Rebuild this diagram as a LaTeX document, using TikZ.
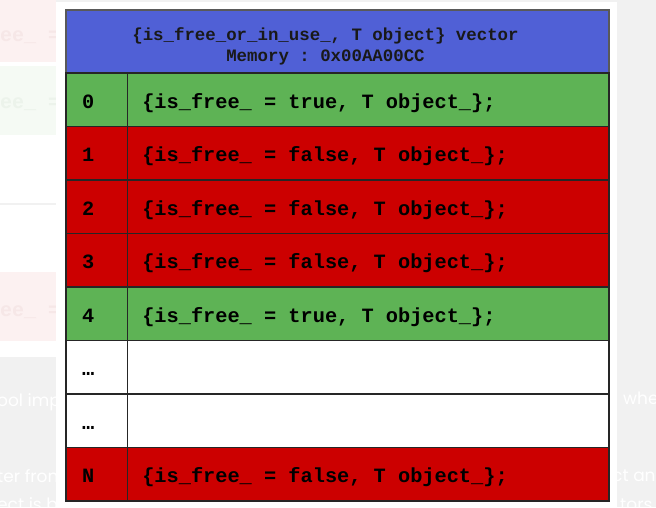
\documentclass[tikz,border=0pt]{standalone}
\usepackage{fontspec}
\setmonofont{Liberation Mono}
\newfontfamily\pagefont{Poppins}
\usepackage{tikz}
\usetikzlibrary{positioning}
\definecolor{poolblue}{RGB}{80, 96, 214}
\definecolor{poolgreen}{RGB}{94, 179, 85}
\definecolor{poolred}{RGB}{204, 0, 0}
\definecolor{pagegrey}{RGB}{241, 241, 241}
\definecolor{fadedred}{RGB}{252, 241, 241}
\definecolor{fadedgreen}{RGB}{245, 250, 244}
\definecolor{ghostred}{RGB}{246, 231, 231}
\definecolor{ghostgreen}{RGB}{236, 243, 235}

\begin{document}
\begin{tikzpicture}[
  x=1pt, y=-1pt,
  header/.style={
    rectangle, draw=black!65, line width=1.2pt,
    fill=poolblue, outer sep=0pt,
    minimum width=543pt, minimum height=63pt
  },
  headtext/.style={
    inner sep=0pt, align=center, text=black!90,
    font=\fontsize{17.4}{21.5}\selectfont\ttfamily\bfseries
  },
  cell/.style={
    rectangle, draw=black!85, line width=1.2pt, outer sep=0pt,
    minimum height=53.5pt, inner xsep=15pt, inner ysep=0pt,
    align=left, text height=20pt, text depth=3pt,
    font=\fontsize{20.3}{24}\selectfont\ttfamily\bfseries,
    execute at begin node={\spaceskip=0pt\xspaceskip=0pt}
  },
  idxcell/.style={cell, inner xsep=16pt, text width=29.3pt},
  valcell/.style={cell, text width=451.7pt},
  free/.style={fill=poolgreen},
  used/.style={fill=poolred},
  empty/.style={fill=white},
  ghost/.style={
    inner sep=0pt, anchor=base west,
    font=\fontsize{20}{24}\selectfont\ttfamily\bfseries
  },
  pagetext/.style={
    inner sep=0pt, anchor=base west, text=white,
    font=\fontsize{17}{20}\selectfont\pagefont
  }
]

\useasboundingbox (0,0) rectangle (656,507);

% page behind the picture
\fill[pagegrey] (0,0) rectangle (656,507);
\fill[white] (0,0) rectangle (56,357);
\fill[fadedred] (0,0) rectangle (56,62);
\fill[fadedgreen] (0,66) rectangle (56,135);
\fill[pagegrey] (0,203) rectangle (56,205);
\fill[fadedred] (0,272) rectangle (56,341);

\node[ghost, text=ghostred] (gh1) at (-72,41) {\{is\_free\_ =};
\node[ghost, text=ghostgreen] (gh2) at (-72,108) {\{is\_free\_ =};
\node[ghost, text=ghostred] (gh3) at (-72,316) {\{is\_free\_ =};

\node[pagetext] (pl1) at (-3,406) {ool imp};
\node[pagetext] (pl2) at (-3,482) {ter fron};
\node[pagetext] (pl3) at (-3,510) {ect is b};
\node[pagetext] (pr1) at (623,404) {whe};
\node[pagetext] (pr2) at (612,481) {ct an};
\node[pagetext] (pr3) at (620,510) {tors};

\fill[white] (56,2) rectangle (617,507);

% the vector
\node[header, anchor=north west] (hdr) at (66,10) {};
\node[headtext] (hdrtext) at ([xshift=-12pt, yshift=-5pt]hdr.center)
  {\{is\_free\_or\_in\_use\_, T object\} vector\\Memory : 0x00AA00CC};

\node[idxcell, free, below right=0pt and 0pt of hdr.south west] (idx0) {0};
\node[valcell, free, right=0pt of idx0] (val0) {\{is\_free\_ = true, T object\_\};};

\node[idxcell, used, below=0pt of idx0] (idx1) {1};
\node[valcell, used, right=0pt of idx1] (val1) {\{is\_free\_ = false, T object\_\};};

\node[idxcell, used, below=0pt of idx1] (idx2) {2};
\node[valcell, used, right=0pt of idx2] (val2) {\{is\_free\_ = false, T object\_\};};

\node[idxcell, used, below=0pt of idx2] (idx3) {3};
\node[valcell, used, right=0pt of idx3] (val3) {\{is\_free\_ = false, T object\_\};};

\node[idxcell, free, below=0pt of idx3] (idx4) {4};
\node[valcell, free, right=0pt of idx4] (val4) {\{is\_free\_ = true, T object\_\};};

\node[idxcell, empty, below=0pt of idx4] (idx5) {…};
\node[valcell, empty, right=0pt of idx5] (val5) {};

\node[idxcell, empty, below=0pt of idx5] (idx6) {…};
\node[valcell, empty, right=0pt of idx6] (val6) {};

\node[idxcell, used, below=0pt of idx6] (idxN) {N};
\node[valcell, used, right=0pt of idxN] (valN) {\{is\_free\_ = false, T object\_\};};

\end{tikzpicture}
\end{document}
